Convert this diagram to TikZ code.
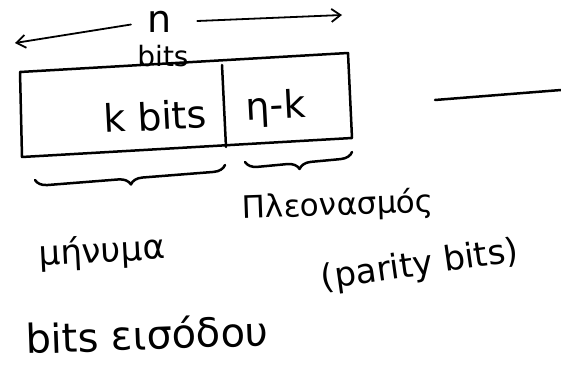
\documentclass[tikz,border=0pt]{standalone}
\usepackage{fontspec}
\setmainfont{DejaVu Sans}
\usetikzlibrary{decorations.pathreplacing,arrows.meta}
\begin{document}
\begin{tikzpicture}[x=1pt,y=-1pt, line width=2.5pt, line cap=round, line join=round,
  hand/.style={font=\fontsize{34}{36}\selectfont, inner sep=0pt},
  brc/.style={decorate, decoration={brace, mirror, amplitude=12pt}},
  arr/.style={-{Straight Barb[length=9pt,width=13pt]}, line width=1.8pt}]
\useasboundingbox (0,0) rectangle (561,374);
\fill[white] (0,0) rectangle (561,374);
% box
\draw (20,72) -- (348,53) -- (352,138) -- (22,157) -- cycle;
\draw (222,65) -- (226,147);
% top label and arrows
\node[hand, font=\fontsize{38}{40}\selectfont] (n) at (160,22) {n};
\node[hand, font=\fontsize{28}{30}\selectfont] (bits) at (163,56) {bits};
\coordinate (la) at (15,43);
\coordinate (ra) at (342,15);
\draw[arr, shorten <=16pt] (n.west) -- (la);
\draw[arr, shorten <=24pt] (n.east) -- (ra);
% cell texts
\node[hand, font=\fontsize{38}{40}\selectfont, rotate=3] (kb) at (155,116) {k bits};
\node[hand, font=\fontsize{38}{40}\selectfont, rotate=3] (nk) at (276,108) {η-k};
% braces
\draw[brc] (35,180) -- (225,165);
\draw[brc] (245,162) -- (352,152);
% labels
\node[hand, rotate=3] (msg) at (102,252) {μήνυμα};
\node[hand, font=\fontsize{31}{33}\selectfont, rotate=2] (red) at (338,206) {Πλεονασμός};
\node[hand, font=\fontsize{34}{36}\selectfont, rotate=8] (par) at (420,266) {(parity bits)};
\node[hand, font=\fontsize{40}{42}\selectfont, rotate=2] (inb) at (147,334) {bits εισόδου};
% stray line on the right
\coordinate (l1) at (435,100);
\coordinate (l2) at (561,90);
\draw (l1) -- (l2);
\end{tikzpicture}
\end{document}
